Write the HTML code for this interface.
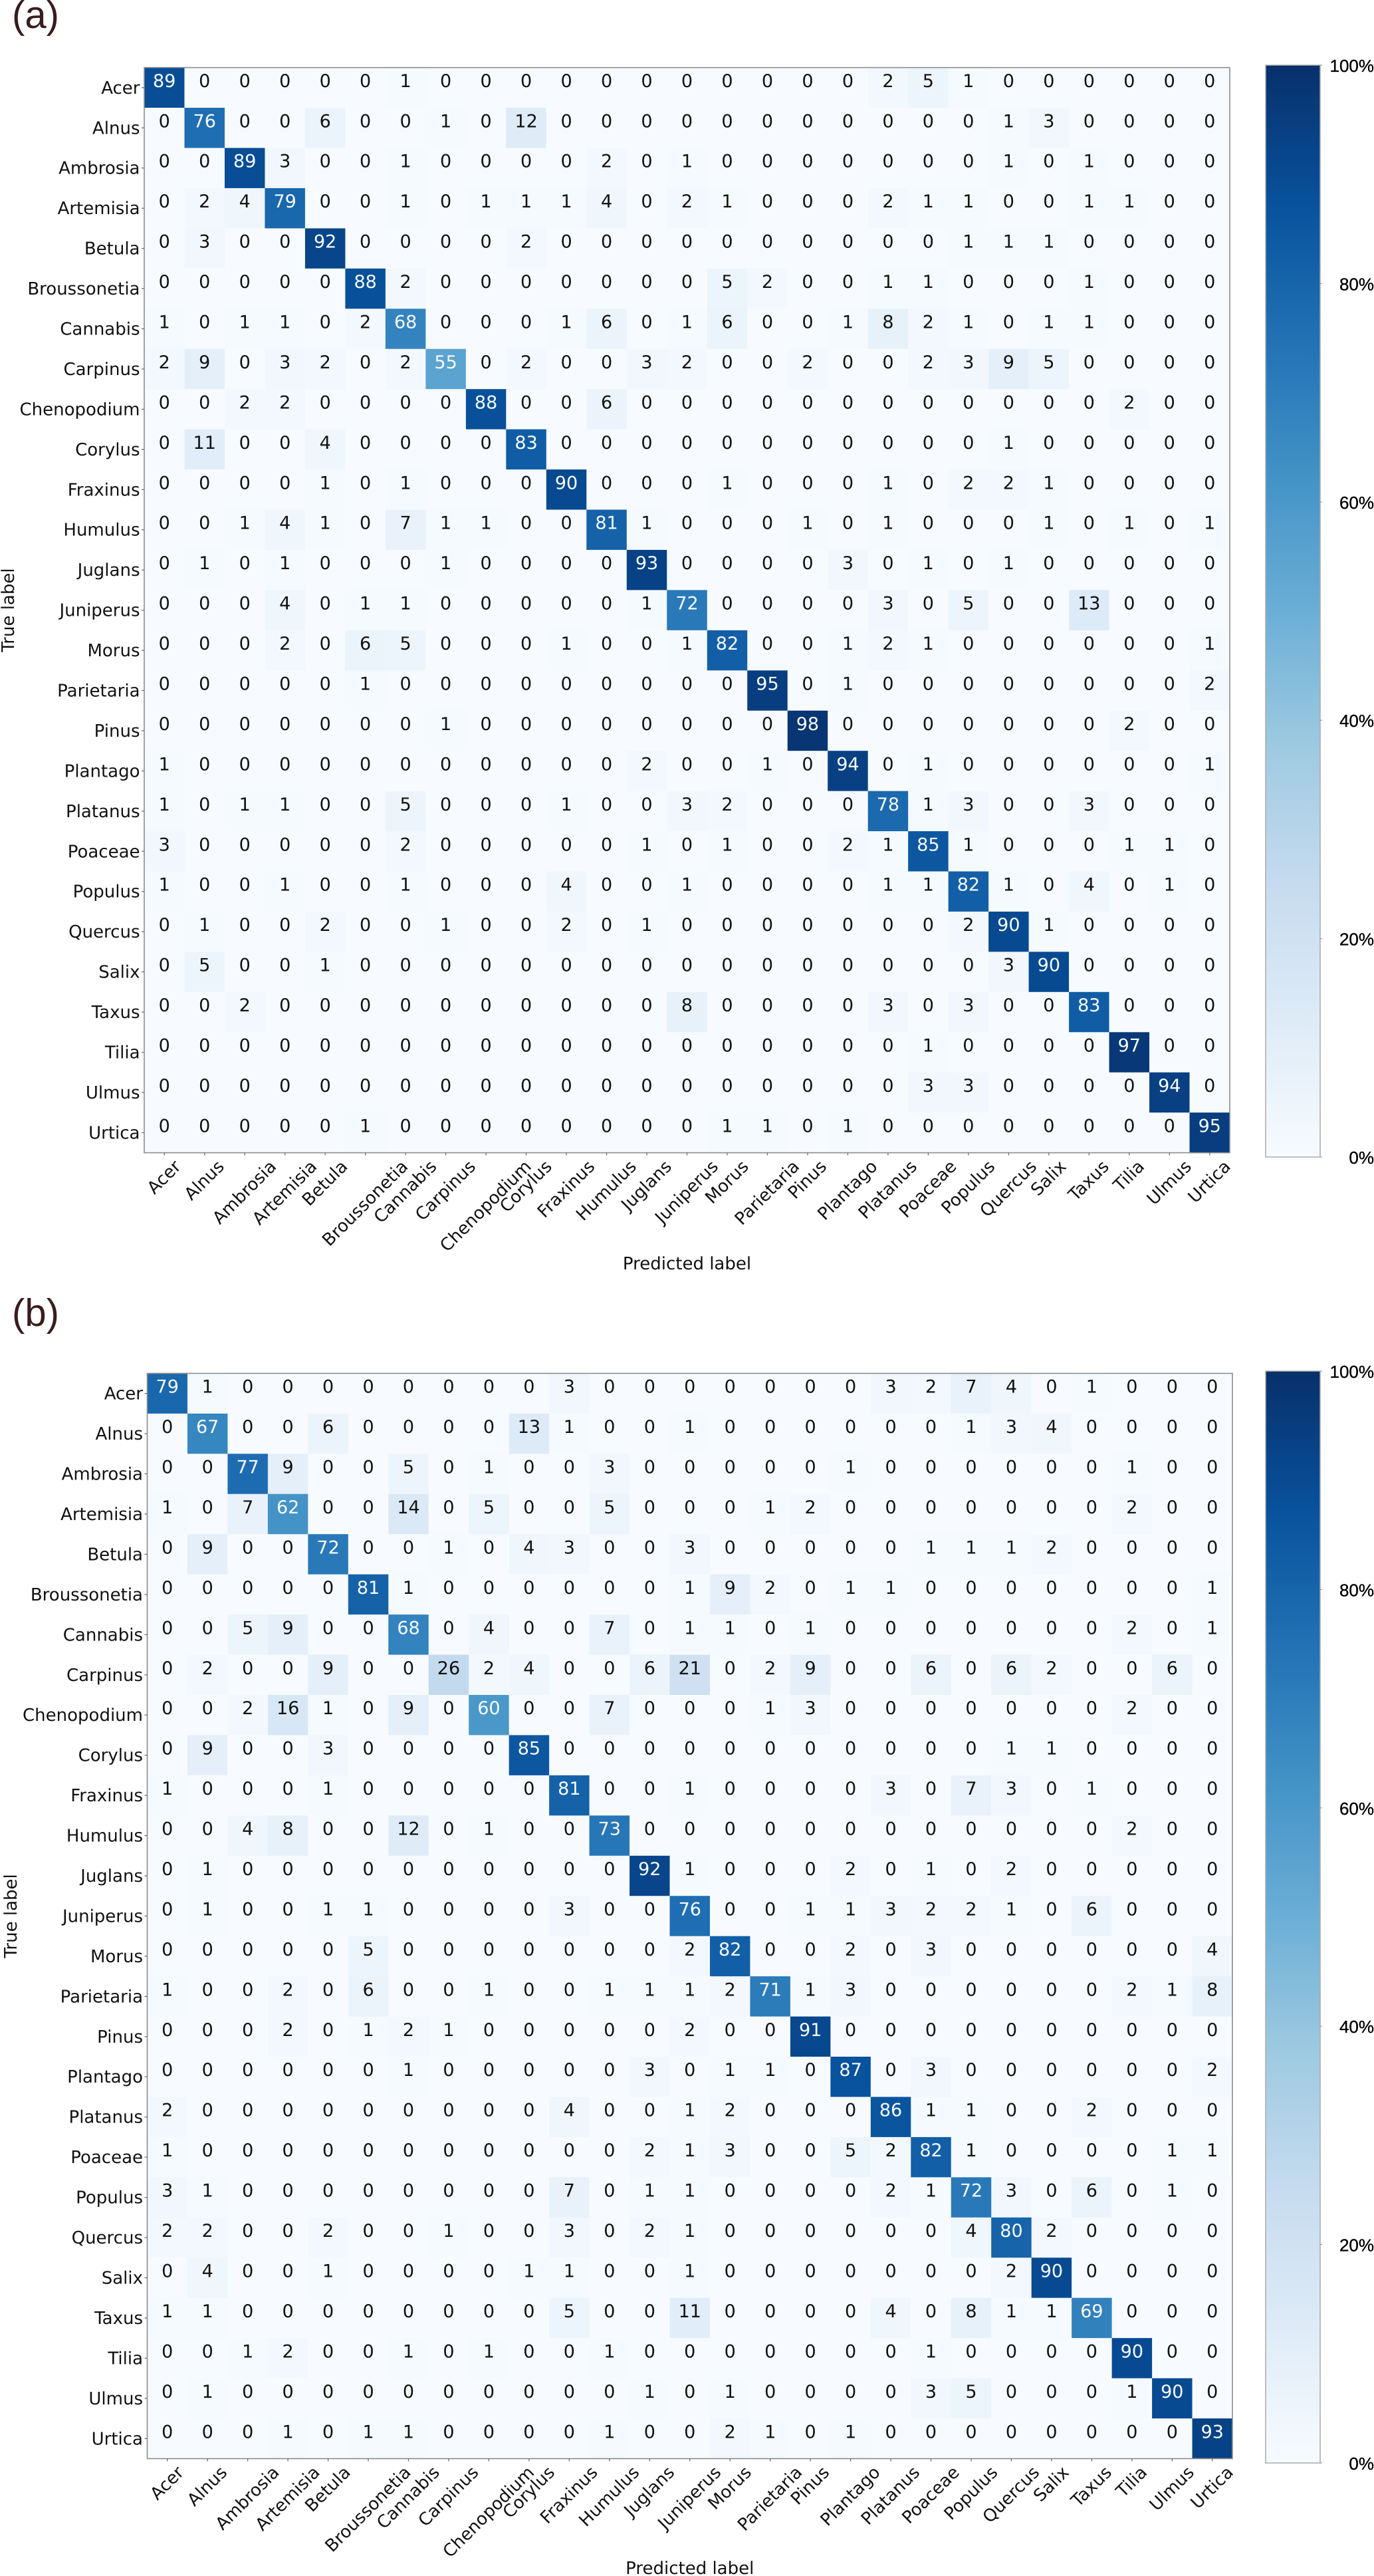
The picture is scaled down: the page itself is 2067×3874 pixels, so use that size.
<!DOCTYPE html>
<html lang="en">
<head>
<meta charset="utf-8">
<title>Confusion matrices (a) and (b)</title>
<style>
html,body{margin:0;padding:0;background:#fff;width:2067px;height:3874px;overflow:hidden}
svg{display:block}
text{font-family:"DejaVu Sans","Liberation Sans",sans-serif;text-rendering:geometricPrecision}
</style>
</head>
<body>
<svg id="fig" xmlns="http://www.w3.org/2000/svg" width="2067" height="3874" viewBox="0 0 2067 3874">
  <defs>
    <linearGradient id="blues" x1="0" y1="1" x2="0" y2="0">
      <stop offset="0" stop-color="#f7fbff"/>
      <stop offset="0.125" stop-color="#deebf7"/>
      <stop offset="0.25" stop-color="#c6dbef"/>
      <stop offset="0.375" stop-color="#9ecae1"/>
      <stop offset="0.5" stop-color="#6baed6"/>
      <stop offset="0.625" stop-color="#4292c6"/>
      <stop offset="0.75" stop-color="#2171b5"/>
      <stop offset="0.875" stop-color="#08519c"/>
      <stop offset="1" stop-color="#08306b"/>
    </linearGradient>
  </defs>
</svg>
<script>
const categories = ["Acer","Alnus","Ambrosia","Artemisia","Betula","Broussonetia","Cannabis","Carpinus","Chenopodium","Corylus","Fraxinus","Humulus","Juglans","Juniperus","Morus","Parietaria","Pinus","Plantago","Platanus","Poaceae","Populus","Quercus","Salix","Taxus","Tilia","Ulmus","Urtica"];

const matrixA = [
[89,0,0,0,0,0,1,0,0,0,0,0,0,0,0,0,0,0,2,5,1,0,0,0,0,0,0],
[0,76,0,0,6,0,0,1,0,12,0,0,0,0,0,0,0,0,0,0,0,1,3,0,0,0,0],
[0,0,89,3,0,0,1,0,0,0,0,2,0,1,0,0,0,0,0,0,0,1,0,1,0,0,0],
[0,2,4,79,0,0,1,0,1,1,1,4,0,2,1,0,0,0,2,1,1,0,0,1,1,0,0],
[0,3,0,0,92,0,0,0,0,2,0,0,0,0,0,0,0,0,0,0,1,1,1,0,0,0,0],
[0,0,0,0,0,88,2,0,0,0,0,0,0,0,5,2,0,0,1,1,0,0,0,1,0,0,0],
[1,0,1,1,0,2,68,0,0,0,1,6,0,1,6,0,0,1,8,2,1,0,1,1,0,0,0],
[2,9,0,3,2,0,2,55,0,2,0,0,3,2,0,0,2,0,0,2,3,9,5,0,0,0,0],
[0,0,2,2,0,0,0,0,88,0,0,6,0,0,0,0,0,0,0,0,0,0,0,0,2,0,0],
[0,11,0,0,4,0,0,0,0,83,0,0,0,0,0,0,0,0,0,0,0,1,0,0,0,0,0],
[0,0,0,0,1,0,1,0,0,0,90,0,0,0,1,0,0,0,1,0,2,2,1,0,0,0,0],
[0,0,1,4,1,0,7,1,1,0,0,81,1,0,0,0,1,0,1,0,0,0,1,0,1,0,1],
[0,1,0,1,0,0,0,1,0,0,0,0,93,0,0,0,0,3,0,1,0,1,0,0,0,0,0],
[0,0,0,4,0,1,1,0,0,0,0,0,1,72,0,0,0,0,3,0,5,0,0,13,0,0,0],
[0,0,0,2,0,6,5,0,0,0,1,0,0,1,82,0,0,1,2,1,0,0,0,0,0,0,1],
[0,0,0,0,0,1,0,0,0,0,0,0,0,0,0,95,0,1,0,0,0,0,0,0,0,0,2],
[0,0,0,0,0,0,0,1,0,0,0,0,0,0,0,0,98,0,0,0,0,0,0,0,2,0,0],
[1,0,0,0,0,0,0,0,0,0,0,0,2,0,0,1,0,94,0,1,0,0,0,0,0,0,1],
[1,0,1,1,0,0,5,0,0,0,1,0,0,3,2,0,0,0,78,1,3,0,0,3,0,0,0],
[3,0,0,0,0,0,2,0,0,0,0,0,1,0,1,0,0,2,1,85,1,0,0,0,1,1,0],
[1,0,0,1,0,0,1,0,0,0,4,0,0,1,0,0,0,0,1,1,82,1,0,4,0,1,0],
[0,1,0,0,2,0,0,1,0,0,2,0,1,0,0,0,0,0,0,0,2,90,1,0,0,0,0],
[0,5,0,0,1,0,0,0,0,0,0,0,0,0,0,0,0,0,0,0,0,3,90,0,0,0,0],
[0,0,2,0,0,0,0,0,0,0,0,0,0,8,0,0,0,0,3,0,3,0,0,83,0,0,0],
[0,0,0,0,0,0,0,0,0,0,0,0,0,0,0,0,0,0,0,1,0,0,0,0,97,0,0],
[0,0,0,0,0,0,0,0,0,0,0,0,0,0,0,0,0,0,0,3,3,0,0,0,0,94,0],
[0,0,0,0,0,1,0,0,0,0,0,0,0,0,1,1,0,1,0,0,0,0,0,0,0,0,95]
];

const matrixB = [
[79,1,0,0,0,0,0,0,0,0,3,0,0,0,0,0,0,0,3,2,7,4,0,1,0,0,0],
[0,67,0,0,6,0,0,0,0,13,1,0,0,1,0,0,0,0,0,0,1,3,4,0,0,0,0],
[0,0,77,9,0,0,5,0,1,0,0,3,0,0,0,0,0,1,0,0,0,0,0,0,1,0,0],
[1,0,7,62,0,0,14,0,5,0,0,5,0,0,0,1,2,0,0,0,0,0,0,0,2,0,0],
[0,9,0,0,72,0,0,1,0,4,3,0,0,3,0,0,0,0,0,1,1,1,2,0,0,0,0],
[0,0,0,0,0,81,1,0,0,0,0,0,0,1,9,2,0,1,1,0,0,0,0,0,0,0,1],
[0,0,5,9,0,0,68,0,4,0,0,7,0,1,1,0,1,0,0,0,0,0,0,0,2,0,1],
[0,2,0,0,9,0,0,26,2,4,0,0,6,21,0,2,9,0,0,6,0,6,2,0,0,6,0],
[0,0,2,16,1,0,9,0,60,0,0,7,0,0,0,1,3,0,0,0,0,0,0,0,2,0,0],
[0,9,0,0,3,0,0,0,0,85,0,0,0,0,0,0,0,0,0,0,0,1,1,0,0,0,0],
[1,0,0,0,1,0,0,0,0,0,81,0,0,1,0,0,0,0,3,0,7,3,0,1,0,0,0],
[0,0,4,8,0,0,12,0,1,0,0,73,0,0,0,0,0,0,0,0,0,0,0,0,2,0,0],
[0,1,0,0,0,0,0,0,0,0,0,0,92,1,0,0,0,2,0,1,0,2,0,0,0,0,0],
[0,1,0,0,1,1,0,0,0,0,3,0,0,76,0,0,1,1,3,2,2,1,0,6,0,0,0],
[0,0,0,0,0,5,0,0,0,0,0,0,0,2,82,0,0,2,0,3,0,0,0,0,0,0,4],
[1,0,0,2,0,6,0,0,1,0,0,1,1,1,2,71,1,3,0,0,0,0,0,0,2,1,8],
[0,0,0,2,0,1,2,1,0,0,0,0,0,2,0,0,91,0,0,0,0,0,0,0,0,0,0],
[0,0,0,0,0,0,1,0,0,0,0,0,3,0,1,1,0,87,0,3,0,0,0,0,0,0,2],
[2,0,0,0,0,0,0,0,0,0,4,0,0,1,2,0,0,0,86,1,1,0,0,2,0,0,0],
[1,0,0,0,0,0,0,0,0,0,0,0,2,1,3,0,0,5,2,82,1,0,0,0,0,1,1],
[3,1,0,0,0,0,0,0,0,0,7,0,1,1,0,0,0,0,2,1,72,3,0,6,0,1,0],
[2,2,0,0,2,0,0,1,0,0,3,0,2,1,0,0,0,0,0,0,4,80,2,0,0,0,0],
[0,4,0,0,1,0,0,0,0,1,1,0,0,1,0,0,0,0,0,0,0,2,90,0,0,0,0],
[1,1,0,0,0,0,0,0,0,0,5,0,0,11,0,0,0,0,4,0,8,1,1,69,0,0,0],
[0,0,1,2,0,0,1,0,1,0,0,1,0,0,0,0,0,0,0,1,0,0,0,0,90,0,0],
[0,1,0,0,0,0,0,0,0,0,0,0,1,0,1,0,0,0,0,3,5,0,0,0,1,90,0],
[0,0,0,1,0,1,1,0,0,0,0,1,0,0,2,1,0,1,0,0,0,0,0,0,0,0,93]
];

const colorbarTicks = [0,20,40,60,80,100];
const colorbarTickLabels = ["0%","20%","40%","60%","80%","100%"];
const blues = ["#f7fbff","#deebf7","#c6dbef","#9ecae1","#6baed6","#4292c6","#2171b5","#08519c","#08306b"];

const svg = document.getElementById('fig');
const NS = 'http://www.w3.org/2000/svg';

function mk(tag, attrs, parent, txt) {
  const el = document.createElementNS(NS, tag);
  for (const k in attrs) el.setAttribute(k, attrs[k]);
  if (txt !== undefined) el.textContent = txt;
  parent.appendChild(el);
  return el;
}
function colorOf(v) {
  const t = Math.max(0, Math.min(1, v / 100)) * (blues.length - 1);
  const i = Math.min(blues.length - 2, Math.floor(t));
  const f = t - i;
  const a = parseInt(blues[i].slice(1), 16), b = parseInt(blues[i + 1].slice(1), 16);
  const ch = s => Math.round(((a >> s) & 255) * (1 - f) + ((b >> s) & 255) * f);
  return 'rgb(' + ch(16) + ',' + ch(8) + ',' + ch(0) + ')';
}
function slug(s) { return s.toLowerCase(); }

function drawPanel(cfg, matrix) {
  const n = categories.length;
  const g = mk('g', {}, svg);
  
  
  const cw = (cfg.right - cfg.left) / n, ch = (cfg.bottom - cfg.top) / n;
  const xScale = i => cfg.left + i * cw;
  const yScale = j => cfg.top + j * ch;

  const title = mk('text', {x: cfg.letterX, y: cfg.letterY, fill: '#3a1c1c', 'font-size': 58, style: 'font-family:"Liberation Sans",sans-serif'}, g, '(' + cfg.id + ')');
  
  

  matrix.forEach((row, j) => {
    row.forEach((v, i) => {
      const cell = mk('rect', {x: xScale(i), y: yScale(j), width: cw + 0.4, height: ch + 0.4, fill: colorOf(v)}, g);
      
      
    });
  });
  matrix.forEach((row, j) => {
    row.forEach((v, i) => {
      const t = mk('text', {x: xScale(i) + cw / 2, y: yScale(j) + ch / 2 - 9.5, 'text-anchor': 'middle', 'dominant-baseline': 'central', 'font-size': 27, fill: v > 50 ? '#f7fbff' : '#111'}, g, String(v));
      
      
    });
  });

  const frame = mk('rect', {x: cfg.left, y: cfg.top, width: cfg.right - cfg.left, height: cfg.bottom - cfg.top, fill: 'none', stroke: '#8c8c8c', 'stroke-width': 1.6}, g);
  
  

  categories.forEach((c, j) => {
    const y = yScale(j) + ch / 2;
    const tk = mk('line', {x1: cfg.left - 4, x2: cfg.left, y1: y, y2: y, stroke: '#666', 'stroke-width': 1.2}, g);
    
    
    const lb = mk('text', {x: cfg.left - 6.5, y: y + 1, 'text-anchor': 'end', 'dominant-baseline': 'central', 'font-size': 26, fill: '#111'}, g, c);
    
    
  });
  categories.forEach((c, i) => {
    const x = xScale(i) + cw / 2;
    const tk = mk('line', {x1: x, x2: x, y1: cfg.bottom, y2: cfg.bottom + 4, stroke: '#666', 'stroke-width': 1.2}, g);
    
    
    const lb = mk('text', {x: x, y: 0, 'text-anchor': 'middle', 'dominant-baseline': 'central', 'font-size': 26, fill: '#111'}, g, c);
    
    
    const w = lb.getComputedTextLength();
    const cy = cfg.bottom + 6 + (w + 30) * 0.3536;
    lb.setAttribute('y', cy);
    lb.setAttribute('transform', 'rotate(-45 ' + x + ' ' + cy + ')');
  });

  const xt = mk('text', {x: (cfg.left + cfg.right) / 2, y: cfg.xTitleY, 'text-anchor': 'middle', 'font-size': 26, fill: '#111'}, g, 'Predicted label');
  
  
  const ym = (cfg.top + cfg.bottom) / 2;
  const yt = mk('text', {x: cfg.yTitleX, y: ym, 'text-anchor': 'middle', 'font-size': 26, fill: '#111', transform: 'rotate(-90 ' + cfg.yTitleX + ' ' + ym + ')'}, g, 'True label');
  
  

  // colorbar
  const cbLeft = 1904, cbRight = 1986;
  const cbScale = v => cfg.cbBottom - (v / 100) * (cfg.cbBottom - cfg.cbTop);
  const bar = mk('rect', {x: cbLeft, y: cfg.cbTop, width: cbRight - cbLeft, height: cfg.cbBottom - cfg.cbTop, fill: 'url(#blues)', stroke: '#aaa', 'stroke-width': 1.5}, g);
  
  
  colorbarTicks.forEach((v, k) => {
    const y = cbScale(v);
    const tk = mk('line', {x1: cbRight, x2: cbRight + 3, y1: y, y2: y, stroke: '#888', 'stroke-width': 1}, g);
    
    
    const lb = mk('text', {x: 2067, y: y + 1, 'text-anchor': 'end', 'dominant-baseline': 'central', 'font-size': 26, fill: '#000', stroke: '#000', 'stroke-width': 0.35, style: 'font-family:"Liberation Sans",sans-serif'}, g, colorbarTickLabels[k]);
    
    
  });
}

drawPanel({id: 'a', left: 217, right: 1850, top: 101.6, bottom: 1733.6, letterX: 18, letterY: 42, xTitleY: 1909, yTitleX: 21, cbTop: 98, cbBottom: 1740}, matrixA);
drawPanel({id: 'b', left: 221.5, right: 1854, top: 2065.4, bottom: 3697.5, letterX: 18, letterY: 1994, xTitleY: 3871, yTitleX: 25, cbTop: 2062, cbBottom: 3704}, matrixB);
</script>
</body>
</html>
